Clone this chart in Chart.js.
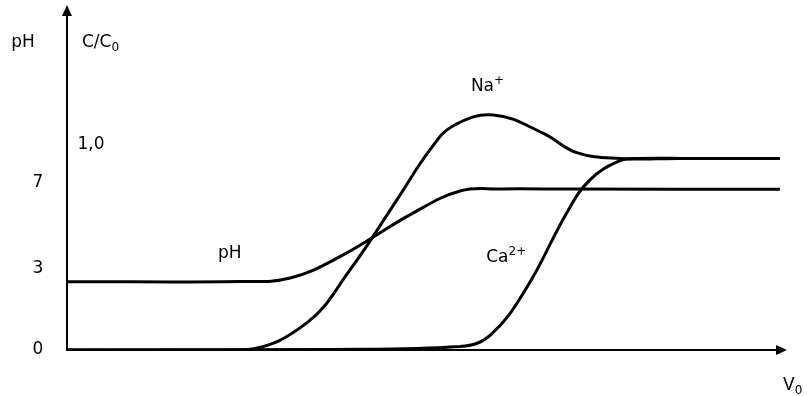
<!DOCTYPE html>
<html lang="fr">
<head>
    <meta charset="UTF-8">
    <title>pH et C/C0 en fonction de V0</title>
    <script src="https://cdn.jsdelivr.net/npm/chart.js"></script>
    <style>
        body { margin: 0; background: #fff; }
        canvas { display: block; }
    </style>
</head>
<body>
    <canvas id="chart" width="807" height="396"></canvas>

    <script>
        // volumes (V0, unites arbitraires) et hauteurs
        const phV   = [0, 2.40, 3.10, 3.79, 4.81, 5.46, 6.01, 7.00, 9.90];
        const phY   = [0.356, 0.357, 0.375, 0.486, 0.714, 0.828, 0.839, 0.838, 0.837];

        const naV   = [0, 2.47, 3.33, 3.93, 4.58, 5.04, 5.36, 5.92, 6.61, 7.08, 7.68, 8.50, 9.90];
        const naY   = [0, 0, 0.141, 0.417, 0.781, 1.042, 1.167, 1.224, 1.130, 1.028, 0.998, 0.998, 0.998];

        const caV   = [0, 3.65, 5.46, 5.88, 6.39, 6.94, 7.26, 7.68, 7.95, 8.60, 9.90];
        const caY   = [0, 0.003, 0.018, 0.078, 0.328, 0.714, 0.885, 0.986, 0.998, 0.998, 0.998];

        // graduations (pH a gauche de l'axe, C/C0 a droite)
        const phTickLabels = ['0', '3', '7'];
        const phTickPos    = [0, 0.424, 0.872];
        const concTickLabels = ['1,0'];
        const concTickPos    = [1.07];

        const toPoints = (xs, ys) => xs.map((x, i) => ({ x: x, y: ys[i] }));

        const FONT = '17px "DejaVu Sans", Verdana, sans-serif';
        const SMALL = '12px "DejaVu Sans", Verdana, sans-serif';

        // texte avec exposant ou indice
        function drawText(ctx, main, extra, x, y, mode, align) {
            ctx.font = FONT;
            const w1 = ctx.measureText(main).width;
            ctx.font = SMALL;
            const w2 = extra ? ctx.measureText(extra).width : 0;
            let x0 = x;
            if (align === 'center') x0 = x - (w1 + w2) / 2;
            ctx.textAlign = 'left';
            ctx.textBaseline = 'alphabetic';
            ctx.font = FONT;
            ctx.fillText(main, x0, y);
            if (extra) {
                ctx.font = SMALL;
                ctx.fillText(extra, x0 + w1, mode === 'sup' ? y - 7 : y + 4);
            }
        }

        const decor = {
            id: 'decor',
            afterDraw(chart) {
                const ctx = chart.ctx;
                const a = chart.chartArea;
                const xs = chart.scales.x, ys = chart.scales.y;
                ctx.save();
                ctx.strokeStyle = '#000';
                ctx.fillStyle = '#000';
                ctx.lineWidth = 2;

                // axes
                ctx.beginPath();
                ctx.moveTo(a.left, a.top + 8);
                ctx.lineTo(a.left, a.bottom);
                ctx.lineTo(a.right - 8, a.bottom);
                ctx.stroke();

                // fleches
                ctx.beginPath();
                ctx.moveTo(a.left, a.top);
                ctx.lineTo(a.left - 5, a.top + 11);
                ctx.lineTo(a.left + 5, a.top + 11);
                ctx.closePath();
                ctx.fill();
                ctx.beginPath();
                ctx.moveTo(a.right, a.bottom);
                ctx.lineTo(a.right - 11, a.bottom - 5);
                ctx.lineTo(a.right - 11, a.bottom + 5);
                ctx.closePath();
                ctx.fill();

                // graduations
                ctx.font = FONT;
                ctx.textBaseline = 'middle';
                ctx.textAlign = 'center';
                phTickLabels.forEach((t, i) => {
                    ctx.fillText(t, a.left - 29, ys.getPixelForValue(phTickPos[i]));
                });
                concTickLabels.forEach((t, i) => {
                    ctx.fillText(t, a.left + 24, ys.getPixelForValue(concTickPos[i]));
                });

                // titres des axes
                drawText(ctx, 'pH', '', a.left - 44, 47, null, 'center');
                drawText(ctx, 'C/C', '0', a.left + 15, 47, 'sub', 'left');
                drawText(ctx, 'V', '0', a.right - 4, 390, 'sub', 'left');

                // noms des courbes
                drawText(ctx, 'pH', '', xs.getPixelForValue(2.26), ys.getPixelForValue(0.48), null, 'center');
                drawText(ctx, 'Na', '+', xs.getPixelForValue(5.84), ys.getPixelForValue(1.35), 'sup', 'center');
                drawText(ctx, 'Ca', '2+', xs.getPixelForValue(6.10), ys.getPixelForValue(0.458), 'sup', 'center');
                ctx.restore();
            }
        };

        const line = (label, data) => ({
            label: label,
            data: data,
            borderColor: '#000',
            borderWidth: 3,
            pointRadius: 0,
            fill: false,
            tension: 0.4
        });

        new Chart(document.getElementById('chart'), {
            type: 'line',
            data: {
                datasets: [
                    line('pH', toPoints(phV, phY)),
                    line('Na+', toPoints(naV, naY)),
                    line('Ca2+', toPoints(caV, caY))
                ]
            },
            options: {
                responsive: false,
                animation: false,
                layout: { padding: { left: 67, right: 20, top: 5, bottom: 46 } },
                plugins: { legend: { display: false }, tooltip: { enabled: false } },
                scales: {
                    x: { type: 'linear', min: 0, max: 10, display: false },
                    y: { min: 0, max: 1.797, display: false }
                }
            },
            plugins: [decor]
        });
    </script>
</body>
</html>
